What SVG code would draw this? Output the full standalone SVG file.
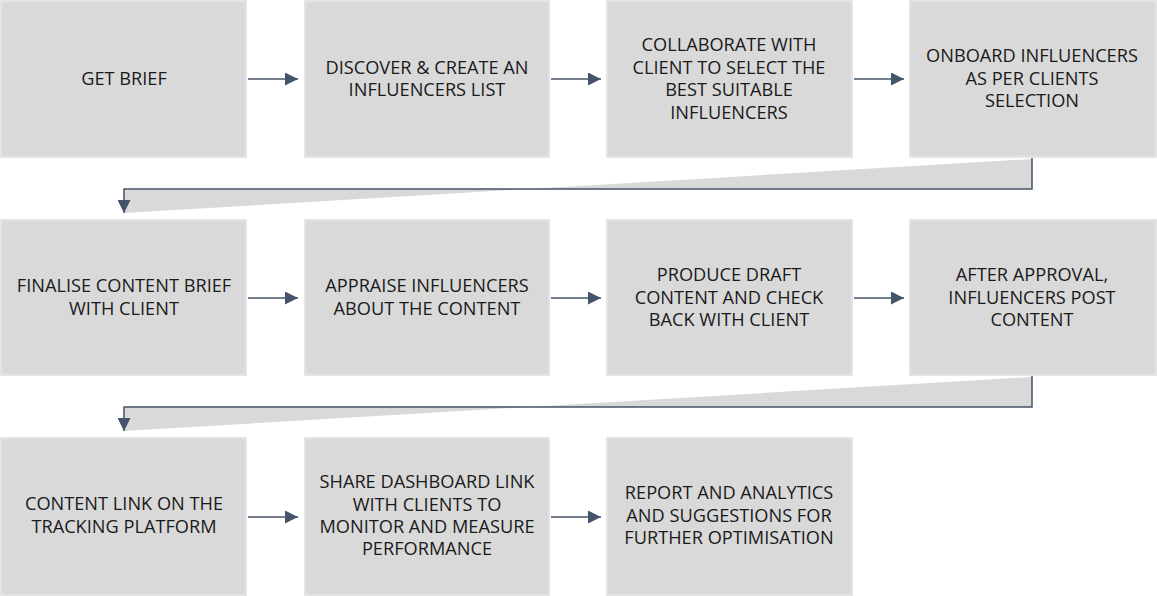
<svg xmlns="http://www.w3.org/2000/svg" width="1157" height="596" viewBox="0 0 1157 596">
<style>
.box{fill:#d9d9d9;stroke:#e4e4e4;stroke-width:2}
.t{font-family:"Open Sans","Liberation Sans",sans-serif;font-size:18.2px;fill:#1a1a1a;text-anchor:middle}
.c{stroke:#44546a;stroke-width:1.5;fill:none}
.w{fill:#d9d9d9}
</style>
<defs>
<marker id="ah" markerUnits="userSpaceOnUse" markerWidth="13" markerHeight="13" viewBox="0 0 12 12" refX="12" refY="6" orient="auto">
<path d="M0,0 L12,6 L0,12 Z" fill="#44546a"/>
</marker>
</defs>
<rect width="1157" height="596" fill="#ffffff"/>
<g id="connectors">
<polygon class="w" points="1032,159 1032,189 124,189 124,213"/>
<polygon class="w" points="1032,377 1032,407 124,407 124,431"/>
<line class="c" x1="248" y1="79" x2="298" y2="79" marker-end="url(#ah)"/>
<line class="c" x1="551" y1="79" x2="601" y2="79" marker-end="url(#ah)"/>
<line class="c" x1="854" y1="79" x2="904" y2="79" marker-end="url(#ah)"/>
<line class="c" x1="248" y1="298" x2="298" y2="298" marker-end="url(#ah)"/>
<line class="c" x1="551" y1="298" x2="601" y2="298" marker-end="url(#ah)"/>
<line class="c" x1="854" y1="298" x2="904" y2="298" marker-end="url(#ah)"/>
<line class="c" x1="248" y1="517" x2="298" y2="517" marker-end="url(#ah)"/>
<line class="c" x1="551" y1="517" x2="601" y2="517" marker-end="url(#ah)"/>
<polyline class="c" points="1032,158 1032,189 124,189 124,213" marker-end="url(#ah)"/>
<polyline class="c" points="1032,376 1032,407 124,407 124,431" marker-end="url(#ah)"/>
</g>
<g id="n1"><rect class="box" x="1" y="1" width="245" height="156"/><text class="t" x="124" y="85">GET BRIEF</text></g>
<g id="n2"><rect class="box" x="305" y="1" width="244" height="156"/><text class="t" x="427" y="74">DISCOVER &amp; CREATE AN</text><text class="t" x="427" y="96">INFLUENCERS LIST</text></g>
<g id="n3"><rect class="box" x="607" y="1" width="245" height="156"/><text class="t" x="729" y="51">COLLABORATE WITH</text><text class="t" x="729" y="74">CLIENT TO SELECT THE</text><text class="t" x="729" y="96">BEST SUITABLE</text><text class="t" x="729" y="119">INFLUENCERS</text></g>
<g id="n4"><rect class="box" x="910" y="1" width="246" height="156"/><text class="t" x="1032" y="62">ONBOARD INFLUENCERS</text><text class="t" x="1032" y="85">AS PER CLIENTS</text><text class="t" x="1032" y="107">SELECTION</text></g>
<g id="n5"><rect class="box" x="1" y="220" width="245" height="155"/><text class="t" x="124" y="292">FINALISE CONTENT BRIEF</text><text class="t" x="124" y="315">WITH CLIENT</text></g>
<g id="n6"><rect class="box" x="305" y="220" width="244" height="155"/><text class="t" x="427" y="292">APPRAISE INFLUENCERS</text><text class="t" x="427" y="315">ABOUT THE CONTENT</text></g>
<g id="n7"><rect class="box" x="607" y="220" width="245" height="155"/><text class="t" x="729" y="281">PRODUCE DRAFT</text><text class="t" x="729" y="304">CONTENT AND CHECK</text><text class="t" x="729" y="326">BACK WITH CLIENT</text></g>
<g id="n8"><rect class="box" x="910" y="220" width="246" height="155"/><text class="t" x="1032" y="281">AFTER APPROVAL,</text><text class="t" x="1032" y="304">INFLUENCERS POST</text><text class="t" x="1032" y="326">CONTENT</text></g>
<g id="n9"><rect class="box" x="1" y="438" width="245" height="157"/><text class="t" x="124" y="510">CONTENT LINK ON THE</text><text class="t" x="124" y="533">TRACKING PLATFORM</text></g>
<g id="n10"><rect class="box" x="305" y="438" width="244" height="157"/><text class="t" x="427" y="488">SHARE DASHBOARD LINK</text><text class="t" x="427" y="511">WITH CLIENTS TO</text><text class="t" x="427" y="533">MONITOR AND MEASURE</text><text class="t" x="427" y="555">PERFORMANCE</text></g>
<g id="n11"><rect class="box" x="607" y="438" width="245" height="157"/><text class="t" x="729" y="499">REPORT AND ANALYTICS</text><text class="t" x="729" y="522">AND SUGGESTIONS FOR</text><text class="t" x="729" y="544">FURTHER OPTIMISATION</text></g>
</svg>
